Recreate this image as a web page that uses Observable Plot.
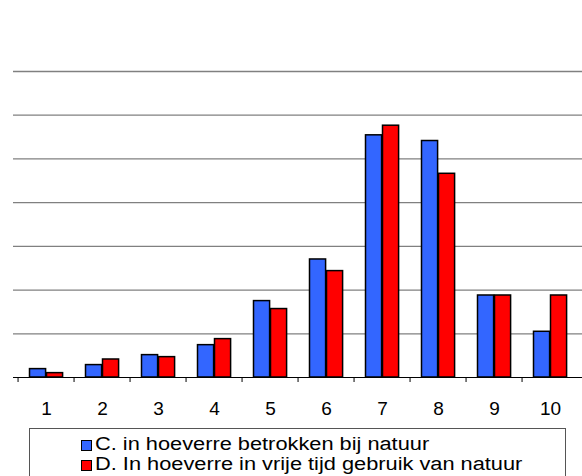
<!DOCTYPE html>
<html>
<head>
<meta charset="utf-8">
<script src="https://cdn.jsdelivr.net/npm/d3@7"></script>
<script src="https://cdn.jsdelivr.net/npm/@observablehq/plot@0.6"></script>
<style>
  html, body { margin: 0; padding: 0; background: #fff; }
  #wrap { position: relative; width: 582px; height: 476px; overflow: hidden; font-family: "Liberation Sans", Arial, sans-serif; }
  #legend { position: absolute; left: 29px; top: 428px; width: 537px; height: 70px; border: 1px solid #555; box-sizing: border-box; background: #fff; }
  .item { position: absolute; left: 51px; height: 20px; white-space: nowrap; }
  .sw { position: absolute; left: 0; top: 0; width: 11px; height: 11px; box-sizing: border-box; border: 1.5px solid #000; }
  .lab { position: absolute; left: 14px; top: 0; font-size: 18px; line-height: 20px; transform: scaleX(1.21); transform-origin: 0 0; color: #000; }
</style>
</head>
<body>
<div id="wrap"></div>
<script>
const categories = ["1", "2", "3", "4", "5", "6", "7", "8", "9", "10"];
const seriesNames = ["C. in hoeverre betrokken bij natuur", "D. In hoeverre in vrije tijd gebruik van natuur"];
const seriesColors = ["#3366FF", "#FF0000"];
const valuesC = [0.96, 1.42, 2.56, 3.7, 8.74, 13.5, 27.7, 27.05, 9.38, 5.23];
const valuesD = [0.5, 2.06, 2.33, 4.39, 7.83, 12.17, 28.8, 23.3, 9.38, 9.38];
const gridTicks = [5, 10, 15, 20, 25, 30, 35];

const dataC = categories.map((c, i) => ({cat: c, value: valuesC[i]}));
const dataD = categories.map((c, i) => ({cat: c, value: valuesD[i]}));

const chart = Plot.plot({
  width: 582,
  height: 425,
  marginLeft: 13,
  marginRight: 0,
  marginTop: 71,
  marginBottom: 48,
  style: {fontFamily: '"Liberation Sans", Arial, sans-serif', fontSize: "19px", color: "#000", background: "#fff", overflow: "visible"},
  x: {domain: categories, padding: 0, axis: null, label: null},
  y: {domain: [0, 35], axis: null, label: null},
  marks: [
    Plot.gridY(gridTicks, {stroke: "#808080", strokeOpacity: 1, strokeWidth: 1.3}),
    Plot.barY(dataC, {x: "cat", y: "value", fill: seriesColors[0], stroke: "#000", strokeWidth: 1.5, insetLeft: 11.5, insetRight: 28.4}),
    Plot.barY(dataD, {x: "cat", y: "value", fill: seriesColors[1], stroke: "#000", strokeWidth: 1.5, insetLeft: 28.5, insetRight: 11.4}),
    Plot.ruleY([0], {stroke: "#000", strokeWidth: 1.2}),
    Plot.axisX({tickSize: 5, tickFormat: () => "", dx: -28.45, stroke: "#000", strokeWidth: 1, label: null}),
    Plot.axisX({tickSize: 0, tickPadding: 24, fontSize: "19px", fill: "#000", label: null})
  ]
});

const wrap = document.getElementById("wrap");
wrap.appendChild(chart);

const legend = document.createElement("div");
legend.id = "legend";
const tops = [5, 25];
seriesNames.forEach((name, i) => {
  const item = document.createElement("div");
  item.className = "item";
  item.style.top = tops[i] + "px";
  const sw = document.createElement("span");
  sw.className = "sw";
  sw.style.background = seriesColors[i];
  sw.style.top = "5.5px";
  const lab = document.createElement("span");
  lab.className = "lab";
  lab.textContent = name;
  item.appendChild(sw);
  item.appendChild(lab);
  legend.appendChild(item);
});
wrap.appendChild(legend);
</script>
</body>
</html>
